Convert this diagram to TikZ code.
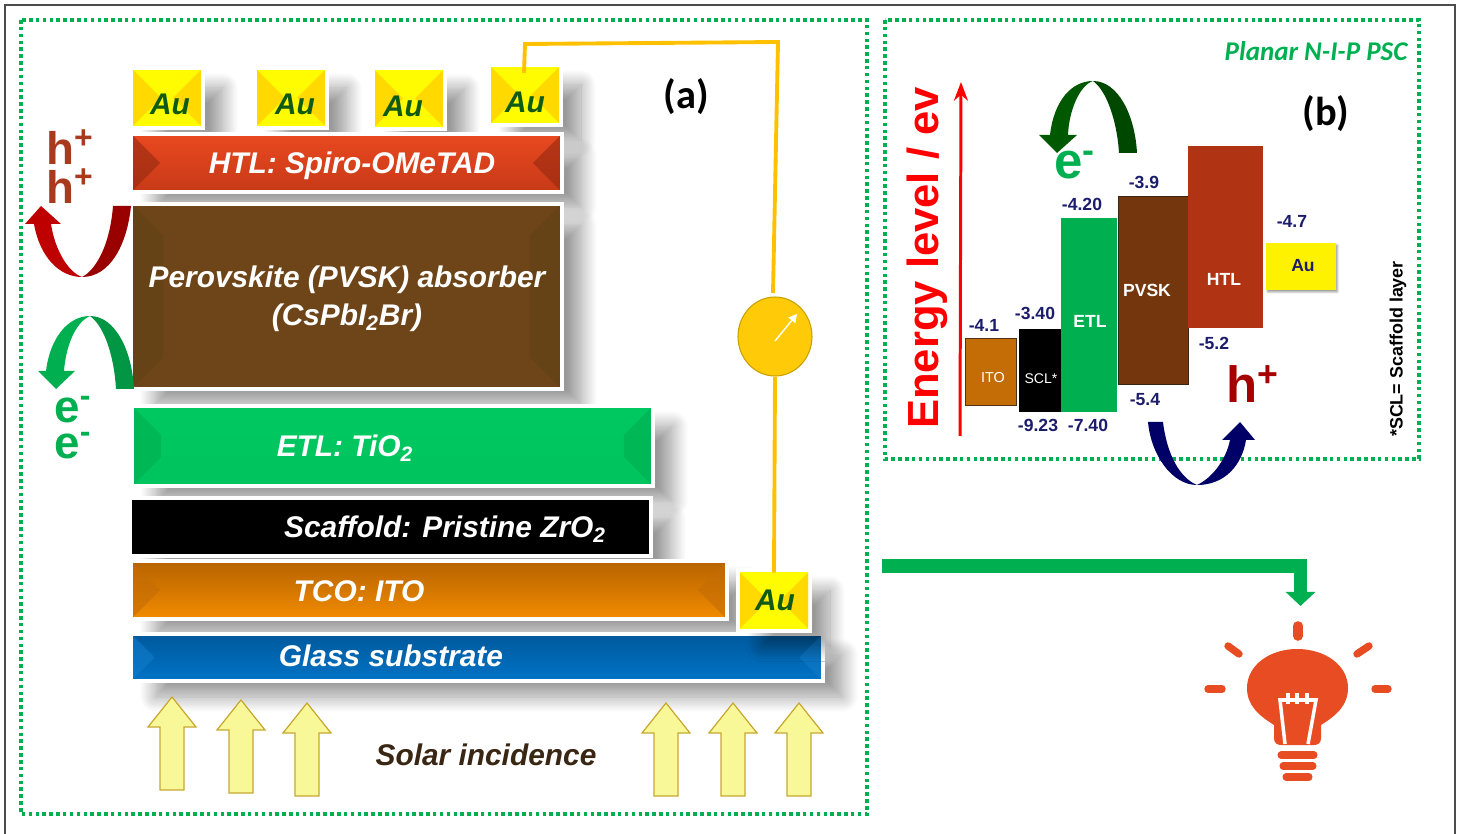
\documentclass[tikz,border=0pt]{standalone}
\usepackage{fontspec}
\usepackage{tikz}
\usetikzlibrary{arrows.meta, positioning, calc, shadows.blur, shapes.geometric}
\setmainfont{Liberation Sans}
\newfontfamily\carlito{Carlito}

\definecolor{frameGreen}{HTML}{00B050}
\definecolor{wireGold}{HTML}{FFC000}
\definecolor{auText}{HTML}{0F5A14}
\definecolor{auMid}{HTML}{FFCC00}
\definecolor{holeRed}{HTML}{A83A1E}
\definecolor{bulbRed}{HTML}{E84C22}
\definecolor{levelBlue}{HTML}{1C1C6C}
\definecolor{sunFill}{HTML}{F8F898}
\definecolor{sunEdge}{HTML}{C8A832}
\definecolor{htlMid}{HTML}{A62D12}
\definecolor{htlTop}{HTML}{E8481F}
\definecolor{htlBot}{HTML}{C83A18}
\definecolor{pvskFill}{HTML}{6E4519}
\definecolor{pvskSide}{HTML}{624016}
\definecolor{etlTop}{HTML}{00C860}
\definecolor{etlMid}{HTML}{00AE50}
\definecolor{etlBot}{HTML}{00C45E}
\definecolor{tcoTop}{HTML}{B96400}
\definecolor{tcoMid}{HTML}{C06A02}
\definecolor{tcoBot}{HTML}{F08A00}
\definecolor{glassTop}{HTML}{005A9E}
\definecolor{glassBot}{HTML}{0072C4}
\definecolor{itoFill}{HTML}{C46C05}
\definecolor{pvskLevel}{HTML}{74360C}
\definecolor{htlLevel}{HTML}{B03414}
\definecolor{meterFill}{HTML}{FFCA08}
\definecolor{meterEdge}{HTML}{C8A000}

\tikzset{
  bevel/.style n args={3}{path picture={
    \fill[#2,opacity=.6] (path picture bounding box.north west) -- ($(path picture bounding box.north west)+(#1,#1)$) -- ($(path picture bounding box.south west)+(#1,-#1)$) -- (path picture bounding box.south west) -- cycle;
    \fill[#2,opacity=.6] (path picture bounding box.north east) -- ($(path picture bounding box.north east)+(-#1,#1)$) -- ($(path picture bounding box.south east)+(-#1,-#1)$) -- (path picture bounding box.south east) -- cycle;
    \fill[#3] (path picture bounding box.north west) -- ($(path picture bounding box.north west)+(#1,#1)$) -- ($(path picture bounding box.north east)+(-#1,#1)$) -- (path picture bounding box.north east) -- cycle;
    \fill[#3] (path picture bounding box.south west) -- ($(path picture bounding box.south west)+(#1,-#1)$) -- ($(path picture bounding box.south east)+(-#1,-#1)$) -- (path picture bounding box.south east) -- cycle;
  }},
  layer/.style={rectangle, inner sep=0pt, outer sep=0pt,
    blur shadow={shadow xshift=.44cm, shadow yshift=-.36cm, shadow blur radius=.3cm, shadow blur steps=16, shadow opacity=40},
    preaction={draw=white, line width=5pt}},
  aubox/.style={layer, minimum width=1.36cm, minimum height=1.12cm,
    top color=yellow, middle color=auMid, bottom color=yellow,
    bevel={28}{wireGold}{yellow,opacity=.25}},
  autext/.style={text=auText, font=\fontsize{17}{20}\selectfont\bfseries\itshape},
  layertext/.style={text=white, align=center, font=\fontsize{17}{20}\selectfont\bfseries\itshape},
  dotframe/.style={draw=frameGreen, line width=2pt, dash pattern=on 2pt off 1.9pt},
  wire/.style={draw=wireGold, line width=2.2pt},
  sunarrow/.style={draw=sunEdge, fill=sunFill, line width=.7pt},
  carrier/.style={inner sep=0pt, font=\fontsize{26}{28}\selectfont\bfseries},
  level/.style={rectangle, inner sep=0pt, outer sep=0pt},
  leveltext/.style={text=levelBlue, font=\fontsize{10}{12}\selectfont\bfseries},
  boxtext/.style={text=white, font=\fontsize{10}{12}\selectfont\bfseries},
  ray/.style={draw=bulbRed, line width=4.2pt, line cap=round},
  basebar/.style={draw=bulbRed, line width=4pt, line cap=round},
}

\begin{document}
\begin{tikzpicture}[x=0.02cm, y=-0.02cm, >=Stealth]
\useasboundingbox (0,0) rectangle (1461,834);

% 外框
\draw[black!70, line width=.8pt] (5,834) -- (5,5) -- (1455,5) -- (1455,834);
\draw[dotframe] (21,20) rectangle (867,814);
\draw[dotframe] (885,20) rectangle (1419,459);

% 图 (a)：电极
\node[aubox] (auone) at (167,98) {};
\node[aubox] (autwo) at (291,98) {};
\node[aubox] (authree) at (409,98.500) {};
\node[aubox] (aufour) at (525,95) {};
\node[autext] (auonetext) at (170,104) {Au};
\node[autext] (autwotext) at (295,104) {Au};
\node[autext] (authreetext) at (403,106) {Au};
\node[autext] (aufourtext) at (525,102) {Au};

% 图 (a)：各层
\node[layer, minimum width=8.54cm, minimum height=1.08cm, top color=htlTop, middle color=htlMid, bottom color=htlBot, bevel={27}{htlMid!90!black}{opacity=0}] (htl) at (346.5,163) {};
\node[layer, minimum width=8.54cm, minimum height=3.62cm, fill=pvskFill, bevel={30}{pvskSide}{opacity=0}] (pvsk) at (346.5,296.5) {};
\node[layer, minimum width=10.34cm, minimum height=1.52cm, top color=etlTop, middle color=etlMid, bottom color=etlBot, bevel={27}{etlMid}{opacity=0}] (etl) at (392.5,446) {};
\node[layer, minimum width=10.34cm, minimum height=1.08cm, fill=black] (scaffold) at (390.5,527) {};
\node[layer, minimum width=11.84cm, minimum height=1.08cm, top color=tcoTop, middle color=tcoMid, bottom color=tcoBot, bevel={27}{itoFill}{opacity=0}] (tco) at (429,590) {};
\node[layer, minimum width=13.76cm, minimum height=.86cm, top color=glassTop, bottom color=glassBot, bevel={21}{cyan!60!blue}{opacity=0}] (glass) at (477,657.5) {};
\node[aubox] (aufive) at (774,600.500) {};
\node[autext] (aufivetext) at (775,600) {Au};

\node[layertext] (htltext) at (352,166) {HTL: Spiro-OMeTAD};
\node[layertext] (pvsktext) at (347,299) {Perovskite (PVSK) absorber\\[1.5pt](CsPbI\textsubscript{2}Br)};
\node[layertext] (etltext) at (345,448) {ETL: TiO\textsubscript{2}};
\node[layertext] (scaffoldtext) at (445,529) {Scaffold: Pristine ZrO\textsubscript{2}};
\node[layertext] (tcotext) at (359,591) {TCO: ITO};
\node[layertext] (glasstext) at (391,656) {Glass substrate};
\node[layertext, text=black!70!brown] (solartext) at (486,755) {Solar incidence};
\node[text=black, font=\carlito\fontsize{23}{26}\selectfont\bfseries] (alabel) at (686,97) {(a)};

% 外电路
\node[ellipse, draw=meterEdge, fill=meterFill, line width=.6pt, minimum width=1.48cm, minimum height=1.58cm, inner sep=0pt] (meter) at (775,336.5) {};
\coordinate (wireleft) at (525,44);
\coordinate (wireright) at (778,42);
\coordinate (wiredrop) at (773,293);
\coordinate (needlefrom) at (775,341);
\coordinate (needleto) at (797,314);
\draw[wire] (aufour.north) ++(-1,6) -- (wireleft) -- (wireright) -- (wiredrop);
\draw[wire] (meter.south) -- (aufive.north);
\draw[-{Triangle[length=4.7pt,width=5pt]}, white, line width=.8pt] (needlefrom) -- (needleto);

% 入射光
\foreach \x/\y in {172/697, 241/700, 307/703, 666/703, 733/703, 799/703} {
  \draw[sunarrow] (\x,\y) -- ++(24,30) -- ++(-12,0) -- (\x+12,\y+93) -- (\x-12,\y+93) -- (\x-12,\y+30) -- ++(-12,0) -- cycle;
}

% 载流子箭头
\fill[red!75!black] (34,224) .. controls (40,258) and (60,277) .. (82,277) .. controls (68,272) and (55,250) .. (51,224) -- (61,224) -- (41,206) -- (25,224) -- cycle;
\fill[red!60!black] (82,277) .. controls (110,277) and (127,245) .. (131,206) -- (113,206) .. controls (110,245) and (96,270) .. (82,277) -- cycle;
\fill[frameGreen] (46,371) .. controls (50,338) and (68,316) .. (90,316) .. controls (76,322) and (66,345) .. (64,371) -- (75,371) -- (56,389) -- (38,371) -- cycle;
\fill[frameGreen!85!black] (90,316) .. controls (115,316) and (132,350) .. (134,389) -- (116,389) .. controls (114,355) and (104,326) .. (90,316) -- cycle;

\node[carrier, text=holeRed] (holeone) at (70,147) {h\textsuperscript{+}};
\node[carrier, text=holeRed] (holetwo) at (70,186) {h\textsuperscript{+}};
\node[carrier, text=frameGreen] (elecone) at (73,410) {e\textsuperscript{-}};
\node[carrier, text=frameGreen] (electwo) at (73,446) {e\textsuperscript{-}};

% 图 (b)：能级
\node[text=frameGreen, font=\carlito\fontsize{15.4}{18}\selectfont\bfseries\itshape] (titleb) at (1316,51) {Planar N-I-P PSC};
\node[text=black, font=\carlito\fontsize{23}{26}\selectfont\bfseries] (blabel) at (1326,114) {(b)};
\node[rotate=90, text=red, font=\fontsize{24.8}{28}\selectfont\bfseries] (energytext) at (927,258) {Energy level / ev};
\coordinate (energyfrom) at (960,436);
\coordinate (energyto) at (961,82);
\draw[->, red, line width=1.7pt] (energyfrom) -- (energyto);

\node[level, draw=black!60!brown, fill=itoFill, minimum width=1.02cm, minimum height=1.34cm] (ito) at (990.5,371.5) {};
\node[level, fill=black, minimum width=.84cm, minimum height=1.66cm] (scl) at (1040,370.5) {};
\node[level, fill=frameGreen, minimum width=1.12cm, minimum height=3.88cm] (etlb) at (1089,315) {};
\node[level, draw=black!70!brown, fill=pvskLevel, minimum width=1.4cm, minimum height=3.76cm] (pvskb) at (1153,290) {};
\node[level, fill=htlLevel, minimum width=1.5cm, minimum height=3.64cm] (htlb) at (1225.5,237) {};
\node[level, fill=yellow, minimum width=1.4cm, minimum height=.94cm, blur shadow={shadow xshift=.03cm, shadow yshift=-.04cm, shadow blur radius=.04cm}] (aub) at (1301,266.5) {};

\node[text=white, font=\fontsize{8.2}{10}\selectfont] (itotext) at (993,378) {ITO};
\node[text=white, font=\fontsize{8}{10}\selectfont] (scltext) at (1041,379) {SCL*};
\node[boxtext] (etlbtext) at (1090,321) {ETL};
\node[boxtext] (pvskbtext) at (1147,290) {PVSK};
\node[boxtext] (htlbtext) at (1224,279) {HTL};
\node[boxtext, text=levelBlue] (aubtext) at (1303,266) {Au};

\node[leveltext] (lvlito) at (984,325) {-4.1};
\node[leveltext] (lvlscl) at (1035,313) {-3.40};
\node[leveltext] (lvletl) at (1082,204) {-4.20};
\node[leveltext] (lvlpvsk) at (1144,182) {-3.9};
\node[leveltext] (lvlau) at (1292,221) {-4.7};
\node[leveltext] (lvlhtl) at (1214,343) {-5.2};
\node[leveltext] (lvlpvskb) at (1145,400) {-5.4};
\node[leveltext] (lvlsclb) at (1038,425) {-9.23};
\node[leveltext] (lvletlb) at (1088,425) {-7.40};

\node[rotate=90, text=black, font=\fontsize{10.2}{12}\selectfont\bfseries] (scltextnote) at (1398,349) {*SCL= Scaffold layer};

\fill[green!35!black] (1050,135) .. controls (1054,100) and (1072,81) .. (1093,81) .. controls (1080,85) and (1069,110) .. (1068,135) -- (1077,135) -- (1057,153) -- (1039,135) -- cycle;
\fill[green!28!black] (1093,81) .. controls (1118,81) and (1135,115) .. (1137,153) -- (1119,153) .. controls (1117,120) and (1106,90) .. (1093,81) -- cycle;
\fill[blue!40!black] (1148,422) .. controls (1151,455) and (1172,485) .. (1197,485) .. controls (1225,485) and (1242,465) .. (1246,440) -- (1255,440) -- (1240,422) -- (1222,440) -- (1230,440) .. controls (1226,460) and (1212,478) .. (1197,485) .. controls (1180,478) and (1167,455) .. (1163,422) -- cycle;
\node[carrier, text=frameGreen, font=\fontsize{29}{31}\selectfont\bfseries] (elecb) at (1075,165) {e\textsuperscript{-}};
\node[carrier, text=red!65!black, font=\fontsize{29}{31}\selectfont\bfseries] (holeb) at (1253,384) {h\textsuperscript{+}};

% 灯泡
\coordinate (powerfrom) at (882,566);
\coordinate (powerbend) at (1307,566);
\coordinate (powerdrop) at (1300.5,559);
\coordinate (powerto) at (1300.5,606);
\draw[frameGreen, line width=8pt] (powerfrom) -- (powerbend);
\draw[frameGreen, line width=7.4pt, -{Triangle[length=8pt,width=16.5pt]}] (powerdrop) -- (powerto);
\draw[ray, line width=5.5pt] (1298,626) -- (1298,636);
\draw[ray] (1228,646) -- (1239,654);
\draw[ray] (1369,646) -- (1357,654);
\draw[ray] (1208,689) -- (1222,689);
\draw[ray] (1375,689) -- (1388,689);
\fill[bulbRed] (1274,725) .. controls (1258,715) and (1247,705) .. (1247,688) .. controls (1247,665) and (1270,649) .. (1297,649) .. controls (1325,649) and (1348,665) .. (1348,688) .. controls (1348,705) and (1337,715) .. (1321,725) -- (1321,738) .. controls (1321,743) and (1318,745) .. (1314,745) -- (1281,745) .. controls (1277,745) and (1274,743) .. (1274,738) -- cycle;
\draw[white, line width=2pt] (1285,744) -- (1280,700) -- (1316,700) -- (1308,744);
\foreach \x in {1288,1297,1307} {
  \draw[white, line width=1.8pt] (\x,693) -- (\x,704);
}
\draw[basebar] (1281,755) -- (1314,755);
\draw[basebar] (1283,766) -- (1313,766);
\draw[basebar] (1286,777) -- (1309,777);

\end{tikzpicture}
\end{document}
